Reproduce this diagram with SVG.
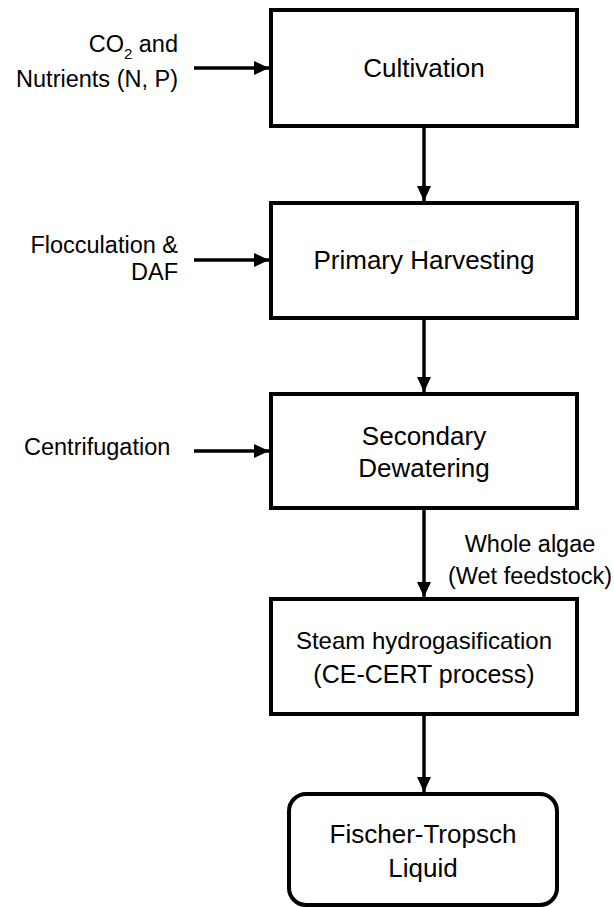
<svg xmlns="http://www.w3.org/2000/svg" width="614" height="907" viewBox="0 0 614 907">
<style>
.box{fill:#fff;stroke:#000;stroke-width:4}
.con{stroke:#000;stroke-width:3.5;fill:none}
.t{font-family:"Liberation Sans",Arial,sans-serif;font-size:26px;fill:#000;text-anchor:middle}
.l{font-family:"Liberation Sans",Arial,sans-serif;font-size:23.5px;fill:#000}
</style>
<defs>
<marker id="ah" markerWidth="15" markerHeight="14" refX="15" refY="7" orient="auto" markerUnits="userSpaceOnUse"><path d="M0,0 L15,7 L0,14 z" fill="#000"/></marker>
</defs>
<rect width="614" height="907" fill="#fff"/>
<g id="connectors">
<line class="con" x1="194" y1="68" x2="269" y2="68" marker-end="url(#ah)"/>
<line class="con" x1="194" y1="260" x2="269" y2="260" marker-end="url(#ah)"/>
<line class="con" x1="194" y1="451" x2="269" y2="451" marker-end="url(#ah)"/>
<line class="con" x1="424" y1="126" x2="424" y2="201" marker-end="url(#ah)"/>
<line class="con" x1="424" y1="318" x2="424" y2="392" marker-end="url(#ah)"/>
<line class="con" x1="424" y1="508" x2="424" y2="597" marker-end="url(#ah)"/>
<line class="con" x1="424" y1="714" x2="424" y2="792" marker-end="url(#ah)"/>
</g>
<g id="cultivation">
<rect class="box" x="271" y="10" width="306" height="116"/>
<text class="t" x="424" y="77">Cultivation</text>
</g>
<g id="primary-harvesting">
<rect class="box" x="271" y="203" width="306" height="115"/>
<text class="t" x="424" y="269">Primary Harvesting</text>
</g>
<g id="secondary-dewatering">
<rect class="box" x="271" y="394" width="306" height="114"/>
<text class="t" x="424" y="445">Secondary</text>
<text class="t" x="424" y="477">Dewatering</text>
</g>
<g id="steam-hydrogasification">
<rect class="box" x="271" y="599" width="306" height="115"/>
<text class="t" x="424" y="649" style="font-size:24px">Steam hydrogasification</text>
<text class="t" x="424" y="683" style="font-size:25px">(CE-CERT process)</text>
</g>
<g id="fischer-tropsch">
<rect class="box" x="289" y="794" width="268" height="111" rx="17" ry="17"/>
<text class="t" x="423" y="843">Fischer-Tropsch</text>
<text class="t" x="423" y="877">Liquid</text>
</g>
<g id="input-co2">
<text class="l" x="178" y="52" text-anchor="end">CO<tspan font-size="15" dy="7">2</tspan><tspan dy="-7"> and</tspan></text>
<text class="l" x="178" y="87" text-anchor="end">Nutrients (N, P)</text>
</g>
<g id="input-flocculation">
<text class="l" x="178" y="253" text-anchor="end">Flocculation &amp;</text>
<text class="l" x="178" y="280" text-anchor="end">DAF</text>
</g>
<g id="input-centrifugation">
<text class="l" x="24" y="455">Centrifugation</text>
</g>
<g id="label-whole-algae">
<text class="l" x="530" y="552" text-anchor="middle">Whole algae</text>
<text class="l" x="530" y="584" text-anchor="middle">(Wet feedstock)</text>
</g>
</svg>
